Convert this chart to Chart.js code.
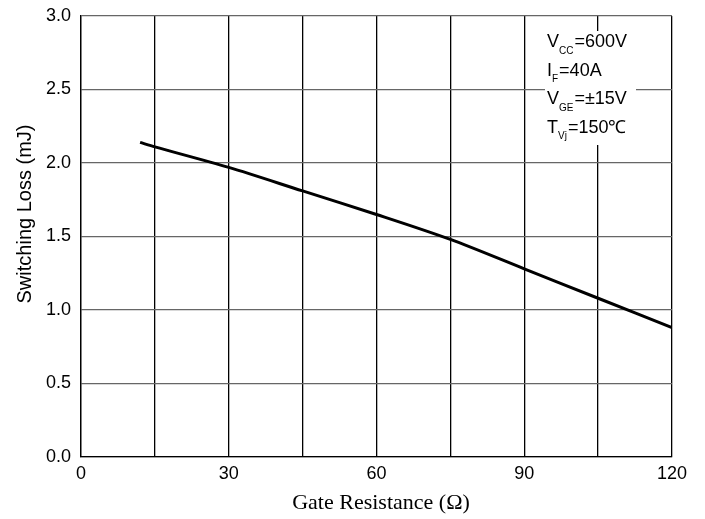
<!DOCTYPE html>
<html>
<head>
<meta charset="utf-8">
<script src="https://cdn.jsdelivr.net/npm/chart.js@4/dist/chart.umd.min.js"></script>
<style>
  html, body { margin: 0; padding: 0; background: #fff; }
  #wrap { width: 705px; height: 519px; }
</style>
</head>
<body>
<div id="wrap"><canvas id="chart" width="705" height="519"></canvas></div>
<script>
// values
const gateRes = [12, 15, 30, 45, 60, 75, 90, 105, 120];
const switchLoss = [2.14, 2.11, 1.97, 1.81, 1.65, 1.48, 1.28, 1.08, 0.88];
const xTicks = [0, 30, 60, 90, 120];
const yTicks = [0, 0.5, 1.0, 1.5, 2.0, 2.5, 3.0];
const xTitle = 'Gate Resistance (\u03a9)';
const yTitle = 'Switching Loss (mJ)';
// conditions box: [symbol, subscript, rest]
const condLines = [
    ['V', 'CC', '=600V'],
    ['I', 'F', '=40A'],
    ['V', 'GE', '=\u00b115V'],
    ['T', 'Vj', '=150\u2103']
];

let points = [];
gateRes.forEach((x, i) => {
    points.push({x: x, y: switchLoss[i]});
});

const sans = 'Arial, "Liberation Sans", sans-serif';
const serif = '"Times New Roman", "Liberation Serif", serif';

const condBox = {
    id: 'condBox',
    beforeDatasetsDraw(chart) {
        const ctx = chart.ctx;
        ctx.save();
        ctx.fillStyle = '#fff';
        ctx.fillRect(545, 31, 91, 114);
        ctx.fillStyle = '#000';
        ctx.textBaseline = 'middle';
        let y = 42.5;
        condLines.forEach(line => {
            let x = 547;
            ctx.font = '18px ' + sans;
            ctx.fillText(line[0], x, y);
            x += ctx.measureText(line[0]).width;
            ctx.font = '10px ' + sans;
            ctx.fillText(line[1], x, y + 8.5);
            x += ctx.measureText(line[1]).width + 1;
            ctx.font = '18px ' + sans;
            ctx.fillText(line[2], x, y);
            y += 28.5;
        });
        ctx.restore();
    }
};

// axis titles, placed where the reference has them
const axisTitles = {
    id: 'axisTitles',
    afterDraw(chart) {
        const ctx = chart.ctx;
        ctx.save();
        ctx.fillStyle = '#000';
        ctx.textAlign = 'center';
        ctx.textBaseline = 'middle';
        ctx.font = '22px ' + serif;
        ctx.fillText(xTitle, 381, 503);
        ctx.translate(25, 214);
        ctx.rotate(-Math.PI / 2);
        ctx.font = '20px ' + sans;
        ctx.fillText(yTitle, 0, 0);
        ctx.restore();
    }
};

const ctx = document.getElementById('chart').getContext('2d');
const mychart = new Chart(ctx, {
    type: 'line',
    data: {
        datasets: [{
            data: points,
            borderColor: '#000',
            borderWidth: 3,
            pointRadius: 0,
            fill: false,
            tension: 0.3
        }]
    },
    options: {
        responsive: false,
        animation: false,
        layout: {padding: {left: 0, top: 16, right: 33, bottom: 0}},
        plugins: {legend: {display: false}, tooltip: {enabled: false}},
        scales: {
            x: {
                type: 'linear',
                min: 0,
                max: 120,
                afterFit: s => {
                    s.height = 62;
                    s.paddingLeft = 0;
                    s.paddingRight = 0;
                },
                afterBuildTicks: s => {
                    s.ticks = [];
                    for (let v = 0; v <= 120; v += 15) s.ticks.push({value: v});
                },
                ticks: {
                    padding: 6,
                    color: '#000',
                    maxRotation: 0,
                    autoSkip: false,
                    font: {family: sans, size: 18},
                    callback: v => xTicks.includes(v) ? String(v) : ''
                },
                grid: {color: '#000', lineWidth: 1.3, drawTicks: false},
                border: {color: '#000', width: 1.3}
            },
            y: {
                min: 0,
                max: 3,
                afterFit: s => {
                    s.width = 81;
                    s.paddingTop = 0;
                    s.paddingBottom = 0;
                },
                afterBuildTicks: s => {
                    s.ticks = yTicks.map(v => ({value: v}));
                },
                ticks: {
                    padding: 10,
                    color: '#000',
                    font: {family: sans, size: 18},
                    callback: v => v.toFixed(1)
                },
                grid: {color: '#666', lineWidth: 1.3, drawTicks: false},
                border: {color: '#000', width: 1.3}
            }
        }
    },
    plugins: [condBox, axisTitles]
});
</script>
</body>
</html>
